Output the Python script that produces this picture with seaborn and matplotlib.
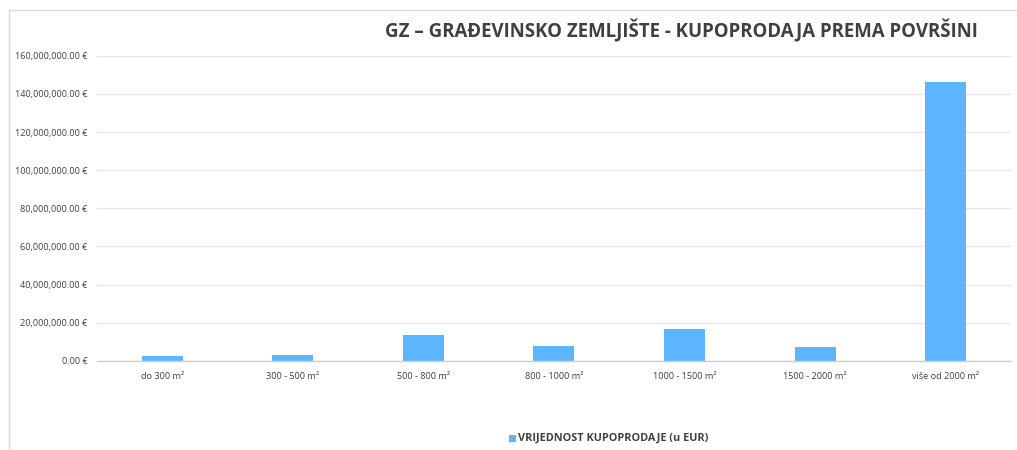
import matplotlib
matplotlib.use("Agg")
import matplotlib.pyplot as plt
import seaborn as sns
import pandas as pd
from matplotlib.lines import Line2D
from matplotlib.patches import Rectangle
from matplotlib.ticker import FuncFormatter

categories = ["do 300 m²", "300 - 500 m²", "500 - 800 m²", "800 - 1000 m²",
              "1000 - 1500 m²", "1500 - 2000 m²", "više od 2000 m²"]
values = [2.6e6, 3.1e6, 13.6e6, 7.7e6, 16.6e6, 7.3e6, 146.2e6]
series_name = "VRIJEDNOST KUPOPRODAJE (u EUR)"
title = "GZ – GRAĐEVINSKO ZEMLJIŠTE - KUPOPRODAJA PREMA POVRŠINI"
yticks = [0, 20e6, 40e6, 60e6, 80e6, 100e6, 120e6, 140e6, 160e6]

df = pd.DataFrame({"cat": categories, "val": values})

sns.set_theme(style="white")
plt.rcParams["font.family"] = ["Open Sans", "DejaVu Sans"]

fig = plt.figure(figsize=(10.17, 4.5), dpi=100)
ax = fig.add_axes([0.0954, 0.198, 0.8986, 0.678])

color = "#5EB5FF"
sns.barplot(data=df, x="cat", y="val", color=color, width=0.314, ax=ax,
            saturation=1, edgecolor="none")

ax.set_ylim(0, 160e6)
ax.set_xlim(-0.5, len(categories) - 0.5)
ax.set_yticks(yticks)
ax.yaxis.set_major_formatter(FuncFormatter(lambda v, p: f"{v:,.2f} €"))
ax.grid(axis="y", color="#E6E6E6", linewidth=1)
ax.set_axisbelow(True)
for s in ["top", "right", "left"]:
    ax.spines[s].set_visible(False)
ax.spines["bottom"].set_color("#D0D0D0")
ax.spines["bottom"].set_linewidth(1)
ax.set_xlabel("")
ax.set_ylabel("")
ax.tick_params(axis="both", length=0, labelsize=6.6, labelcolor="#404040")
ax.tick_params(axis="y", pad=7)
ax.tick_params(axis="x", pad=8)

fig.text(0.6705, 0.931, title, ha="center", va="center", fontsize=13.4,
         fontweight="bold", color="#404040", family=["Open Sans", "DejaVu Sans"])

# legend
fig.patches.append(Rectangle((0.5005, 0.0178), 0.0072, 0.0165, transform=fig.transFigure,
                             facecolor=color, edgecolor="none"))
fig.text(0.5095, 0.026, series_name, ha="left", va="center", fontsize=7.8,
         fontweight="bold", color="#404040")

# chart border
fig.add_artist(Line2D([9 / 1017, 9 / 1017], [0, 1 - 10 / 450], transform=fig.transFigure,
                      color="#D9D9D9", linewidth=1))
fig.add_artist(Line2D([9 / 1017, 1], [1 - 10 / 450, 1 - 10 / 450], transform=fig.transFigure,
                      color="#D9D9D9", linewidth=1))

fig.savefig("out.png", dpi=100, facecolor="white")
